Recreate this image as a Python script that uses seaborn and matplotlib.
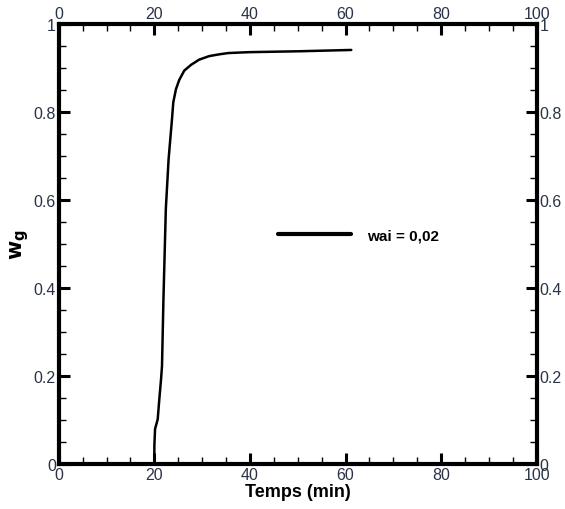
import numpy as np
import pandas as pd
import matplotlib
matplotlib.use("Agg")
import matplotlib.pyplot as plt
import seaborn as sns
from matplotlib.ticker import MultipleLocator

# courbe
temps = [20.0, 20.0, 20.0, 20.15, 20.7, 21.04, 21.4, 21.6, 21.9, 22.4, 22.98,
         23.69, 23.96, 24.52, 25.21, 26.25, 27.65, 29.38, 31.46, 33.54, 35.48,
         39.8, 50.2, 61.2]
wg = [0.0, 0.023, 0.042, 0.08, 0.102, 0.148, 0.193, 0.223, 0.375, 0.58, 0.693,
      0.784, 0.822, 0.852, 0.873, 0.894, 0.907, 0.919, 0.927, 0.931, 0.934,
      0.936, 0.938, 0.941]
serie = "wai = 0,02"

df = pd.DataFrame({"Temps": temps, "wg": wg})

sns.set_style("ticks")
plt.rcParams['font.family'] = ['Liberation Sans', 'DejaVu Sans']

fig = plt.figure(figsize=(5.65, 5.1), dpi=100)
ax = fig.add_axes([0.104, 0.088, 0.846, 0.863])

sns.lineplot(data=df, x="Temps", y="wg", color="black", linewidth=1.8,
             sort=False, estimator=None, label=serie, ax=ax)

ax.set_xlim(0, 100)
ax.set_ylim(0, 1)
ax.xaxis.set_major_locator(MultipleLocator(20))
ax.xaxis.set_minor_locator(MultipleLocator(5))
ax.yaxis.set_major_locator(MultipleLocator(0.2))
ax.yaxis.set_minor_locator(MultipleLocator(0.05))
ax.set_yticks([0, 0.2, 0.4, 0.6, 0.8, 1.0])
ax.set_yticklabels(["0", "0.2", "0.4", "0.6", "0.8", "1"])

txt_col = "#2a3346"
ax.tick_params(which="both", direction="in", top=True, right=True,
               labeltop=True, labelright=True, labelsize=11.5,
               labelcolor=txt_col, color="black", pad=2)
ax.tick_params(which="major", length=8, width=2.2)
ax.tick_params(which="minor", length=5, width=1.0)
for s in ax.spines.values():
    s.set_visible(True)
    s.set_linewidth(3)
    s.set_color("black")

ax.set_xlabel("Temps (min)", fontsize=13, fontweight="bold", labelpad=1,
              color="black")
ax.set_ylabel(r"$\mathbf{w_g}$", fontsize=15, labelpad=2, color="black")

leg = ax.legend(loc="center left", bbox_to_anchor=(0.43, 0.52), frameon=False,
                handlelength=4.8, handletextpad=1.0,
                prop={"weight": "bold", "size": 11})
for h in leg.get_lines():
    h.set_linewidth(3)
for t in leg.get_texts():
    t.set_color("black")

fig.savefig("out.png", dpi=100)
